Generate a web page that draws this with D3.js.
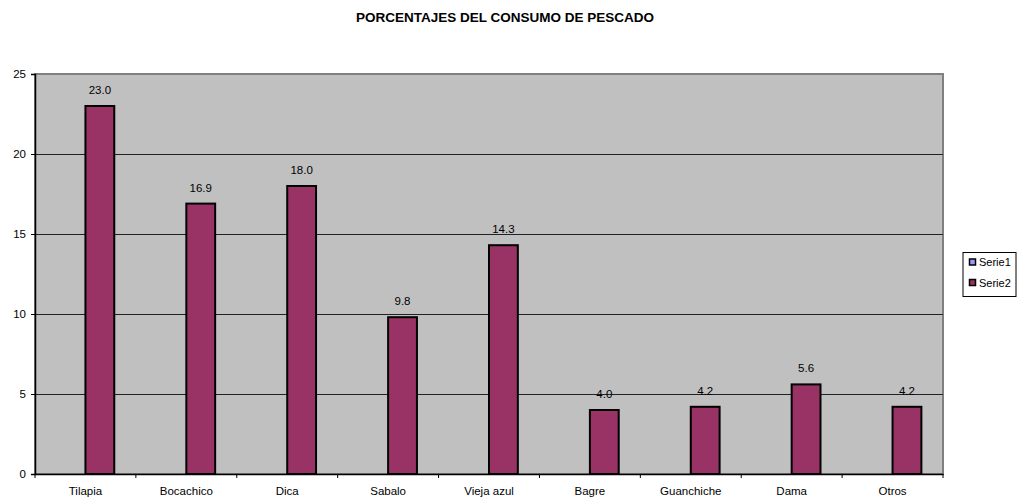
<!DOCTYPE html>
<html><head><meta charset="utf-8">
<script src="https://cdn.jsdelivr.net/npm/d3@7"></script>
<style>body{margin:0;background:#fff}svg{display:block}text{font-family:Arial,"Liberation Sans",sans-serif}</style>
</head><body><svg id="c" width="1018" height="497"></svg>
<script>
const categories = ["Tilapia","Bocachico","Dica","Sabalo","Vieja azul","Bagre","Guanchiche","Dama","Otros"];
const seriesNames = ["Serie1","Serie2"];
const serie1 = [null,null,null,null,null,null,null,null,null];
const serie2 = [23.0,16.9,18.0,9.8,14.3,4.0,4.2,5.6,4.2];
const yTicks = [0,5,10,15,20,25];
const colors = ["#9999FF","#993366"];

const FONT = "Arial, 'Liberation Sans', sans-serif";
const svg = d3.select("#c");
const m = {l:35, r:943, t:74, b:474};
const x = d3.scaleBand().domain(categories).range([m.l, m.r]);
const xs = d3.scaleBand().domain(seriesNames).range([0, x.bandwidth()]).paddingInner(0).paddingOuter(0.75);
const y = d3.scaleLinear().domain([0,25]).range([m.b, m.t]);

svg.append("text").attr("x",505).attr("y",22).attr("text-anchor","middle")
  .attr("font-size","13.5px").attr("font-weight","bold").text("PORCENTAJES DEL CONSUMO DE PESCADO");

svg.append("rect").attr("x",m.l).attr("y",m.t).attr("width",m.r-m.l).attr("height",m.b-m.t)
  .attr("fill","#C0C0C0").attr("stroke","#808080").attr("stroke-width",2);

svg.append("g").selectAll("line").data(yTicks.filter(d=>d>0 && d<25)).join("line")
  .attr("x1",m.l).attr("x2",m.r).attr("y1",d=>Math.round(y(d))+0.5).attr("y2",d=>Math.round(y(d))+0.5)
  .attr("stroke","#222").attr("stroke-width",1);

const data = categories.map((c,i)=>({c, vals:[serie1[i], serie2[i]]}));
const g = svg.append("g");
data.forEach(d=>{
  d.vals.forEach((v,j)=>{
    if(v==null) return;
    const bx = x(d.c)+xs(seriesNames[j]);
    g.append("rect").attr("x",bx).attr("y",y(v)).attr("width",xs.bandwidth()).attr("height",y(0)-y(v))
      .attr("fill",colors[j]).attr("stroke","#000").attr("stroke-width",2);
    g.append("text").attr("x",bx+xs.bandwidth()/2).attr("y",y(v)-12).attr("text-anchor","middle")
      .attr("font-size","11.5px").attr("fill","#000").text(d3.format(".1f")(v));
  });
});

// y axis
const ya = d3.axisLeft(y).tickValues(yTicks).tickSize(4).tickPadding(5);
const yg = svg.append("g").attr("transform",`translate(${m.l},0)`).call(ya);
yg.select(".domain").attr("stroke","#000").attr("stroke-width",1.5);
yg.selectAll("text").attr("font-size","11.5px").attr("font-family",FONT);

// x axis
const xa = d3.axisBottom(x).tickSize(0).tickPadding(13);
const xg = svg.append("g").attr("transform",`translate(0,${m.b})`).call(xa);
xg.select(".domain").attr("stroke","#000").attr("stroke-width",1.5);
xg.selectAll("text").attr("font-size","11.5px").attr("font-family",FONT);
const bounds = categories.map(c=>x(c)).concat([m.r]);
xg.append("g").selectAll("line").data(bounds).join("line")
  .attr("x1",d=>d).attr("x2",d=>d).attr("y1",0).attr("y2",4).attr("stroke","#000");

// legend
const lg = svg.append("g");
lg.append("rect").attr("x",963).attr("y",252.5).attr("width",53).attr("height",44)
  .attr("fill","#fff").attr("stroke","#000").attr("stroke-width",1);
seriesNames.forEach((s,i)=>{
  const yy = 258.5 + i*20.5;
  lg.append("rect").attr("x",969.5).attr("y",yy+0.5).attr("width",6).attr("height",6)
    .attr("fill",colors[i]).attr("stroke","#000").attr("stroke-width",1.5);
  lg.append("text").attr("x",979).attr("y",yy+7.5).attr("font-size","11px").text(s);
});
</script></body></html>
